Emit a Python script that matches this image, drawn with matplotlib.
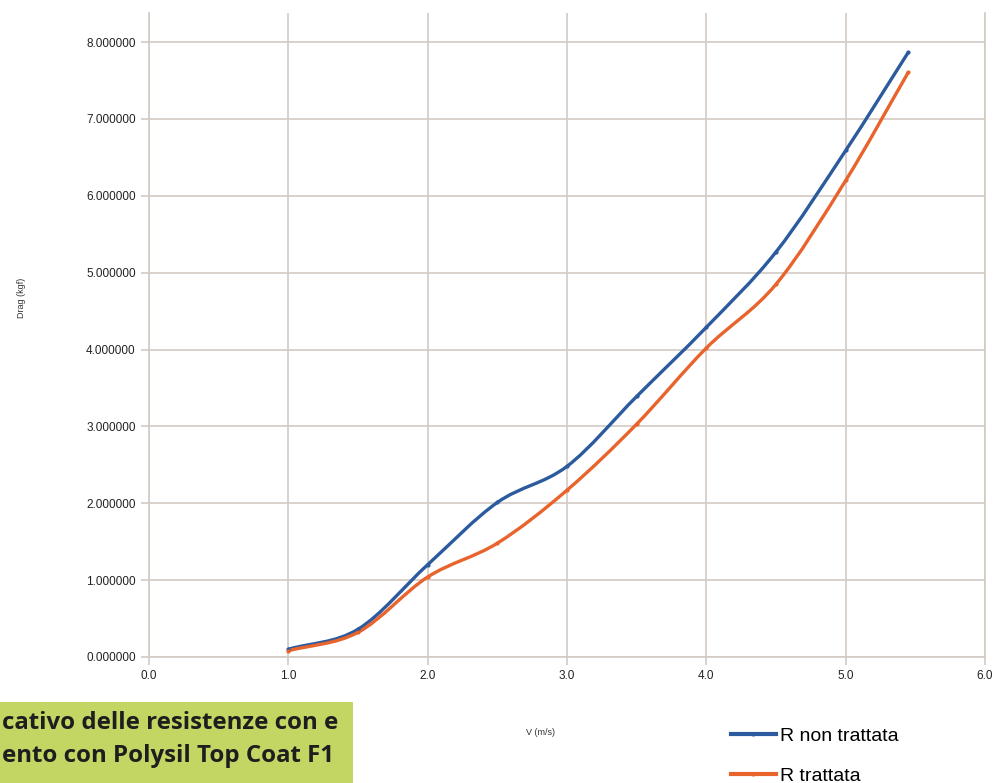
import numpy as np
from matplotlib import pyplot as plt
from matplotlib.path import Path
from matplotlib.patches import PathPatch
from matplotlib.lines import Line2D

#%% Dati

velocita = [1.0, 1.5, 2.0, 2.5, 3.0, 3.5, 4.0, 4.5, 5.0, 5.45]              # V (m/s)
r_non_trattata = [0.10, 0.36, 1.20, 2.01, 2.48, 3.39, 4.29, 5.27, 6.59, 7.87]  # Drag (kgf)
r_trattata = [0.08, 0.32, 1.04, 1.48, 2.17, 3.03, 4.02, 4.85, 6.20, 7.61]      # Drag (kgf)

x_ticks = [0, 1, 2, 3, 4, 5, 6]
y_ticks = [0, 1, 2, 3, 4, 5, 6, 7, 8]

didascalia = ["cativo delle resistenze con e", "ento con Polysil Top Coat F1"]

blu = '#2b5b9e'
arancio = '#e8642c'
griglia = '#d3cbc4'

#%% Curva liscia (Bezier tipo spline) passante per i punti

def curva_liscia(x, y):
    x = np.asarray(x, float)
    y = np.asarray(y, float)
    n = len(x)
    # tangenti tipo Catmull-Rom
    t = np.zeros(n)
    t[1:-1] = (y[2:] - y[:-2]) / (x[2:] - x[:-2])
    t[0] = (y[1] - y[0]) / (x[1] - x[0])
    t[-1] = (y[-1] - y[-2]) / (x[-1] - x[-2])
    verts = [(x[0], y[0])]
    codes = [Path.MOVETO]
    for i in range(n - 1):
        h = x[i + 1] - x[i]
        verts += [(x[i] + h / 3, y[i] + t[i] * h / 3),
                  (x[i + 1] - h / 3, y[i + 1] - t[i + 1] * h / 3),
                  (x[i + 1], y[i + 1])]
        codes += [Path.CURVE4] * 3
    return Path(verts, codes)

#%% Grafico

plt.rcParams['font.family'] = ['Liberation Sans', 'DejaVu Sans']

fig = plt.figure(figsize=(9.93, 7.83), dpi=100)
ax = fig.add_axes([0.150, 0.161, 0.842, 0.822])

for serie, col in [(r_non_trattata, blu), (r_trattata, arancio)]:
    ax.add_patch(PathPatch(curva_liscia(velocita, serie), facecolor='none',
                           edgecolor=col, lw=2.4, zorder=3))
    ax.plot(velocita, serie, 'o', ms=2, color=col, zorder=4)

ax.set_xlim(0, 6)
ax.set_ylim(0, 8.375)
ax.set_xticks(x_ticks)
ax.set_xticklabels(['%.1f' % v for v in x_ticks])
ax.set_yticks(y_ticks)
ax.set_yticklabels(['%.6f' % v for v in y_ticks])
ax.grid(True, color=griglia, lw=1.2)
ax.set_axisbelow(True)
ax.tick_params(colors=griglia, labelcolor='#222222', labelsize=8.5, length=6, width=1.2)
for lato in ['left', 'bottom', 'right']:
    ax.spines[lato].set_color(griglia)
    ax.spines[lato].set_linewidth(1.2)
ax.spines['top'].set_visible(False)

fig.text(0.022, 0.62, 'Drag (kgf)', rotation=90, fontsize=6.5, color='#333333',
         ha='center', va='center')
fig.text(0.544, 0.064, 'V (m/s)', fontsize=6.5, color='#333333', ha='center', va='center')

# legenda
handles = [Line2D([], [], color=blu, lw=3, marker='o', ms=2),
           Line2D([], [], color=arancio, lw=3, marker='o', ms=2)]
fig.legend(handles, ['R non trattata', 'R trattata'], loc='upper left',
           bbox_to_anchor=(0.726, 0.084), frameon=False, fontsize=14,
           handlelength=2.35, handletextpad=0.2, labelspacing=1.15, borderpad=0)

# riquadro verde della didascalia
fig.patches.append(plt.Rectangle((0, 0), 353 / 993, 81 / 783, transform=fig.transFigure,
                                 facecolor='#c3d563', edgecolor='none'))
fig.text(0.002, 1 - 723 / 783, didascalia[0], fontsize=17.3, fontweight='bold',
         family='Open Sans', color='#1e1e1e', va='center', ha='left')
fig.text(0.002, 1 - 756 / 783, didascalia[1], fontsize=17.3, fontweight='bold',
         family='Open Sans', color='#1e1e1e', va='center', ha='left')

fig.savefig('out.png', dpi=100)
